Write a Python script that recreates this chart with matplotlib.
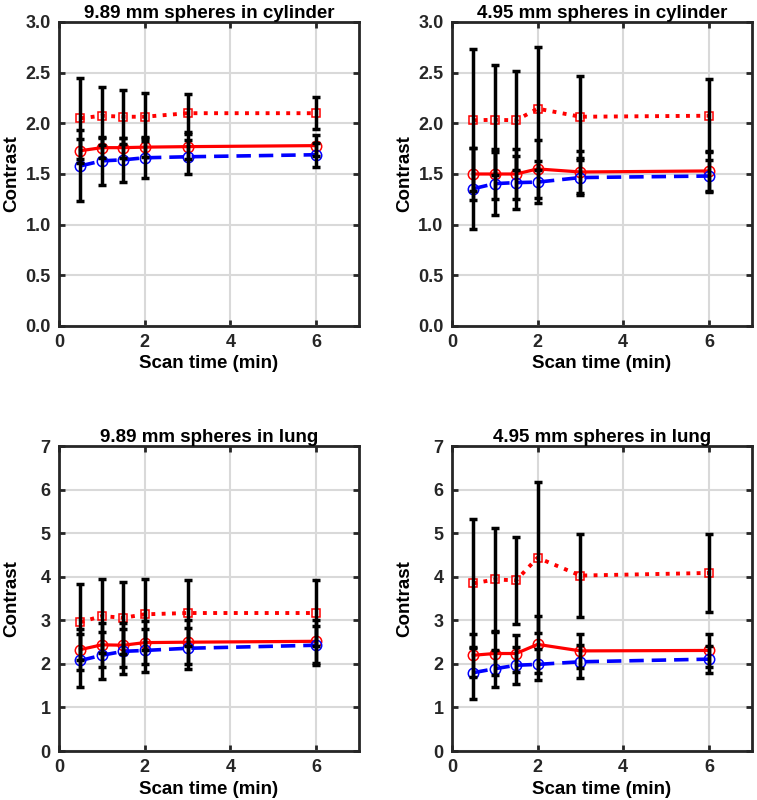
import numpy as np
import matplotlib
matplotlib.use("Agg")
import matplotlib.pyplot as plt

plt.rcParams['font.family'] = ['Liberation Sans', 'DejaVu Sans']
plt.rcParams['font.weight'] = 'bold'

scan_time = [0.5, 1, 1.5, 2, 3, 6]

titles = ["9.89 mm spheres in cylinder", "4.95 mm spheres in cylinder",
          "9.89 mm spheres in lung", "4.95 mm spheres in lung"]

# dotted red squares
sq_mean = [[2.05, 2.075, 2.065, 2.065, 2.10, 2.10],
           [2.03, 2.035, 2.03, 2.145, 2.065, 2.075],
           [2.96, 3.10, 3.06, 3.14, 3.17, 3.17],
           [3.85, 3.94, 3.92, 4.44, 4.03, 4.09]]
sq_err = [[0.40, 0.285, 0.265, 0.235, 0.19, 0.16],
          [0.70, 0.545, 0.49, 0.605, 0.405, 0.36],
          [0.88, 0.84, 0.83, 0.81, 0.75, 0.75],
          [1.48, 1.18, 1.00, 1.73, 0.95, 0.90]]
# solid red circles
rc_mean = [[1.73, 1.76, 1.76, 1.765, 1.77, 1.78],
           [1.50, 1.50, 1.50, 1.55, 1.52, 1.53],
           [2.33, 2.44, 2.43, 2.49, 2.50, 2.52],
           [2.20, 2.24, 2.24, 2.45, 2.30, 2.31]]
rc_err = [[0.12, 0.10, 0.10, 0.10, 0.12, 0.10],
          [0.26, 0.25, 0.25, 0.29, 0.21, 0.20],
          [0.48, 0.50, 0.50, 0.50, 0.50, 0.50],
          [0.49, 0.50, 0.42, 0.66, 0.39, 0.38]]
# dashed blue circles
bc_mean = [[1.58, 1.63, 1.64, 1.66, 1.67, 1.69],
           [1.355, 1.405, 1.415, 1.42, 1.465, 1.48],
           [2.08, 2.20, 2.29, 2.31, 2.36, 2.43],
           [1.80, 1.89, 1.97, 1.99, 2.05, 2.11]]
bc_err = [[0.35, 0.24, 0.22, 0.20, 0.17, 0.12],
          [0.40, 0.31, 0.265, 0.21, 0.175, 0.16],
          [0.60, 0.54, 0.52, 0.50, 0.47, 0.45],
          [0.60, 0.42, 0.42, 0.36, 0.38, 0.31]]

ylims = [3.0, 3.0, 7.0, 7.0]
yticks = [np.arange(0, 3.01, 0.5), np.arange(0, 3.01, 0.5),
          np.arange(0, 8, 1), np.arange(0, 8, 1)]

fig = plt.figure(figsize=(7.57, 8.0), dpi=100)
positions = [[0.078, 0.5925, 0.396, 0.380],
             [0.597, 0.5925, 0.396, 0.380],
             [0.078, 0.0612, 0.396, 0.381],
             [0.597, 0.0612, 0.396, 0.381]]

for i in range(4):
    ax = fig.add_axes(positions[i])
    ax.grid(True, color='#d9d9d9', lw=1.5, zorder=0)
    ax.set_axisbelow(True)

    ax.plot(scan_time, sq_mean[i], ':', color='red', lw=2.8, marker='s',
            ms=5.5, mfc='none', mec='red', mew=1.1, zorder=2)
    ax.plot(scan_time, rc_mean[i], '-', color='red', lw=2.3, marker='o',
            ms=7.5, mfc='none', mec='red', mew=1.1, zorder=2)
    ax.plot(scan_time, bc_mean[i], '--', color='blue', lw=2.6, marker='o',
            ms=7.5, mfc='none', mec='blue', mew=1.1, dashes=(4, 2.2), zorder=2)

    for m, e in [(sq_mean[i], sq_err[i]), (rc_mean[i], rc_err[i]), (bc_mean[i], bc_err[i])]:
        ax.errorbar(scan_time, m, yerr=e, fmt='none', ecolor='black',
                    elinewidth=2.5, capsize=3, capthick=2.5, zorder=3)

    ax.set_xlim(0, 7)
    ax.set_ylim(0, ylims[i])
    ax.set_xticks([0, 2, 4, 6])
    ax.set_yticks(yticks[i])
    if i < 2:
        ax.set_yticklabels([f"{v:.1f}" for v in yticks[i]])
    ax.tick_params(direction='in', length=4, width=2, labelsize=13,
                   top=True, right=True, pad=6, colors='#262626')
    for lab in ax.get_xticklabels() + ax.get_yticklabels():
        lab.set_fontweight('bold')
    for sp in ax.spines.values():
        sp.set_linewidth(2)
        sp.set_color('#262626')
    ax.set_title(titles[i], fontsize=13.5, fontweight='bold', pad=3)
    ax.set_xlabel("Scan time (min)", fontsize=13.5, fontweight='bold', labelpad=3)
    ax.set_ylabel("Contrast", fontsize=13.5, fontweight='bold')
    ax.yaxis.set_label_coords(-0.128, 0.5)

fig.savefig("out.png", dpi=100)
